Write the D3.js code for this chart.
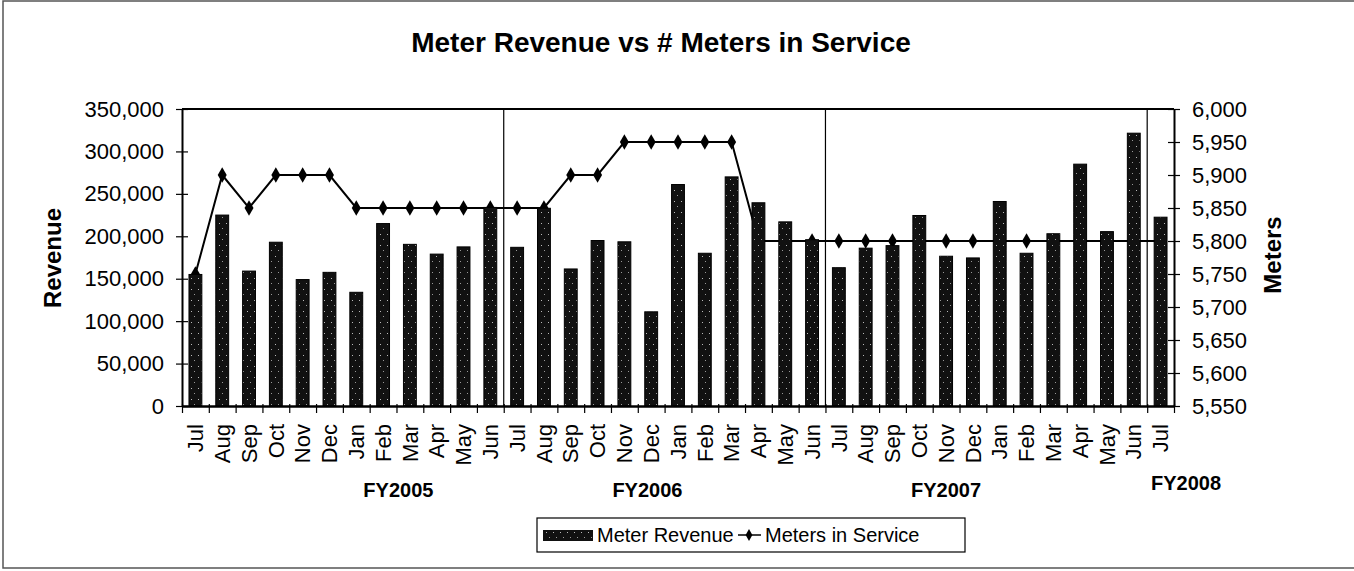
<!DOCTYPE html>
<html>
<head>
<meta charset="utf-8">
<script src="https://cdn.jsdelivr.net/npm/d3@7"></script>
<style>
  body { margin: 0; background: #fff; }
  svg { display: block; font-family: "Liberation Sans", Arial, sans-serif; }
</style>
</head>
<body>
<div id="chart"></div>
<script>
// months Jul 2004 .. Jul 2007 (FY2005 - FY2008)
const months = ["Jul","Aug","Sep","Oct","Nov","Dec","Jan","Feb","Mar","Apr","May","Jun",
  "Jul","Aug","Sep","Oct","Nov","Dec","Jan","Feb","Mar","Apr","May","Jun",
  "Jul","Aug","Sep","Oct","Nov","Dec","Jan","Feb","Mar","Apr","May","Jun",
  "Jul"];
const revenue = [155000,225000,159000,193000,149000,157500,134000,215000,190500,179000,187500,234000,
  187000,233000,161500,195000,193500,111000,261000,180000,270000,239500,217000,196000,
  163000,186000,189000,224500,176500,174500,241000,180000,203000,285000,205500,321500,
  222500];
const meters = [5750,5900,5850,5900,5900,5900,5850,5850,5850,5850,5850,5850,
  5850,5850,5900,5900,5950,5950,5950,5950,5950,5800,5800,5800,
  5800,5800,5800,5800,5800,5800,5800,5800,5800,5800,5800,5800,
  5800];
const fiscalYears = ["FY2005","FY2006","FY2007","FY2008"];
const revenueTicks = [0,50000,100000,150000,200000,250000,300000,350000];
const meterTicks = [5550,5600,5650,5700,5750,5800,5850,5900,5950,6000];

const width = 1354, height = 571;
const plot = {left: 182, right: 1174, top: 109, bottom: 406};
// label anchors in month units
const fyPos = [8.07, 17.36, 28.5, 37.45];
const fyBase = [497, 497, 497, 490];

const svg = d3.select("#chart").append("svg")
  .attr("width", width)
  .attr("height", height);

// dotted fill for the bars
const defs = svg.append("defs");
const pat = defs.append("pattern")
  .attr("id", "speckle")
  .attr("patternUnits", "userSpaceOnUse")
  .attr("width", 7).attr("height", 11);
pat.append("rect").attr("width", 7).attr("height", 11).attr("fill", "#111");
pat.append("rect").attr("x", 2).attr("y", 3).attr("width", 1).attr("height", 1).attr("fill", "#bbb");
pat.append("rect").attr("x", 5).attr("y", 8).attr("width", 1).attr("height", 1).attr("fill", "#999");

// outer frame
svg.append("rect")
  .attr("x", 3).attr("y", 1)
  .attr("width", width + 20).attr("height", 567)
  .attr("fill", "none")
  .attr("stroke", "#555")
  .attr("stroke-width", 1.5);

svg.append("text")
  .attr("x", 661).attr("y", 52)
  .attr("text-anchor", "middle")
  .attr("font-size", 28)
  .attr("font-weight", "bold")
  .text("Meter Revenue vs # Meters in Service");

const x = d3.scaleBand()
  .domain(d3.range(months.length))
  .range([plot.left, plot.right])
  .paddingInner(0.52)
  .paddingOuter(0.26);
const xIdx = d3.scaleLinear()
  .domain([0, months.length])
  .range([plot.left, plot.right]);
const yL = d3.scaleLinear().domain([0, 350000]).range([plot.bottom, plot.top]);
const yR = d3.scaleLinear().domain([5550, 6000]).range([plot.bottom, plot.top]);

// plot border (top)
svg.append("line")
  .attr("x1", plot.left).attr("x2", plot.right)
  .attr("y1", plot.top).attr("y2", plot.top)
  .attr("stroke", "#000").attr("stroke-width", 2);

// fiscal year separators
svg.append("g")
  .selectAll("line")
  .data([12, 24, 36])
  .join("line")
    .attr("x1", d => xIdx(d)).attr("x2", d => xIdx(d))
    .attr("y1", plot.top).attr("y2", plot.bottom)
    .attr("stroke", "#000")
    .attr("stroke-width", 1.2);

// meters line (drawn under the bars, as in the original)
const line = d3.line()
  .x((d, i) => x(i) + x.bandwidth() / 2)
  .y(d => yR(d));

svg.append("path")
  .datum(meters)
  .attr("fill", "none")
  .attr("stroke", "#000")
  .attr("stroke-width", 2)
  .attr("d", line);

svg.append("g")
  .selectAll("path")
  .data(meters)
  .join("path")
    .attr("transform", (d, i) => `translate(${x(i) + x.bandwidth() / 2},${yR(d)})`)
    .attr("d", d3.symbol(d3.symbolDiamond, 70))
    .attr("fill", "#000");

// bars
svg.append("g")
  .selectAll("rect")
  .data(revenue)
  .join("rect")
    .attr("x", (d, i) => x(i))
    .attr("y", d => yL(d))
    .attr("width", x.bandwidth())
    .attr("height", d => plot.bottom - yL(d))
    .attr("fill", "url(#speckle)")
    .attr("stroke", "#000")
    .attr("stroke-width", 1);

// left axis
const axL = svg.append("g")
  .attr("transform", `translate(${plot.left},0)`)
  .call(d3.axisLeft(yL).tickValues(revenueTicks).tickFormat(d3.format(",")).tickSizeInner(6).tickSizeOuter(0).tickPadding(12));
axL.select(".domain").attr("stroke-width", 2);
axL.selectAll(".tick line").attr("x1", 6).attr("stroke-width", 1.2);
axL.selectAll("text").attr("font-size", 22).attr("fill", "#000").attr("font-family", "Liberation Sans, Arial, sans-serif");

// right axis
const axR = svg.append("g")
  .attr("transform", `translate(${plot.right},0)`)
  .call(d3.axisRight(yR).tickValues(meterTicks).tickFormat(d3.format(",")).tickSizeInner(6).tickSizeOuter(0).tickPadding(12));
axR.select(".domain").attr("stroke-width", 2);
axR.selectAll(".tick line").attr("x1", -6).attr("stroke-width", 1.2);
axR.selectAll("text").attr("font-size", 22).attr("fill", "#000").attr("font-family", "Liberation Sans, Arial, sans-serif");

// bottom axis: ticks at month boundaries
const axB = svg.append("g")
  .attr("transform", `translate(0,${plot.bottom})`)
  .call(d3.axisBottom(xIdx).tickValues(d3.range(months.length + 1)).tickFormat("").tickSizeInner(7).tickSizeOuter(0));
axB.select(".domain").attr("stroke-width", 2.5);
axB.selectAll(".tick line").attr("y1", -2).attr("stroke-width", 1.2);

// month labels
svg.append("g")
  .selectAll("text")
  .data(months)
  .join("text")
    .attr("transform", (d, i) => `translate(${x(i) + x.bandwidth() / 2},424) rotate(-90)`)
    .attr("text-anchor", "end")
    .attr("dy", "0.35em")
    .attr("font-size", 22)
    .text(d => d);

// fiscal year labels
svg.append("g")
  .selectAll("text")
  .data(fiscalYears)
  .join("text")
    .attr("x", (d, i) => xIdx(fyPos[i]))
    .attr("y", (d, i) => fyBase[i])
    .attr("text-anchor", "middle")
    .attr("font-size", 20)
    .attr("font-weight", "bold")
    .text(d => d);

// axis titles
svg.append("text")
  .attr("transform", "translate(53,258) rotate(-90)")
  .attr("text-anchor", "middle")
  .attr("dy", "0.35em")
  .attr("font-size", 24)
  .attr("font-weight", "bold")
  .text("Revenue");

svg.append("text")
  .attr("transform", "translate(1273,255) rotate(-90)")
  .attr("text-anchor", "middle")
  .attr("dy", "0.35em")
  .attr("font-size", 24)
  .attr("font-weight", "bold")
  .text("Meters");

// legend
const lg = svg.append("g").attr("transform", "translate(537,518)");
lg.append("rect")
  .attr("width", 428).attr("height", 34)
  .attr("fill", "#fff")
  .attr("stroke", "#000")
  .attr("stroke-width", 1.2);
lg.append("rect")
  .attr("x", 6).attr("y", 12)
  .attr("width", 50).attr("height", 11)
  .attr("fill", "url(#speckle)");
lg.append("text")
  .attr("x", 60).attr("y", 24)
  .attr("font-size", 20)
  .text("Meter Revenue");
lg.append("line")
  .attr("x1", 201).attr("x2", 224)
  .attr("y1", 17).attr("y2", 17)
  .attr("stroke", "#000").attr("stroke-width", 1.5);
lg.append("path")
  .attr("transform", "translate(212,17)")
  .attr("d", d3.symbol(d3.symbolDiamond, 40))
  .attr("fill", "#000");
lg.append("text")
  .attr("x", 228).attr("y", 24)
  .attr("font-size", 20)
  .text("Meters in Service");
</script>
</body>
</html>
